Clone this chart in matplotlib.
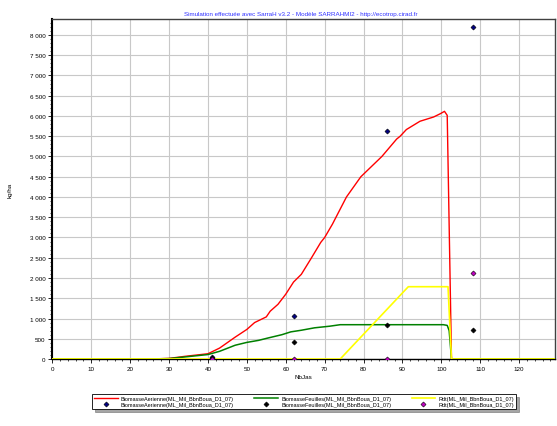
import matplotlib
matplotlib.use("Agg")
import matplotlib.pyplot as plt
from matplotlib.ticker import MultipleLocator, FuncFormatter

plt.rcParams['font.family'] = ['Liberation Sans', 'DejaVu Sans']

title = "Simulation effectuée avec SarraH v3.2 - Modèle SARRAHMI2 - http://ecotrop.cirad.fr"
xlabel = "NbJas"
ylabel = "kg/ha"

aer_days = [0, 25, 30, 34, 40, 43, 47, 50, 52, 55, 56, 58, 60, 62, 64, 66.5, 69, 70, 72,
            75.6, 79.3, 84.7, 88.5, 89.4, 91, 94.5, 98, 99.8, 100.8, 101.5, 102.6, 129]
biom_aer = [0, 0, 15, 65, 130, 270, 540, 730, 900, 1040, 1180, 1350, 1600, 1900, 2090, 2480,
            2880, 3000, 3330, 4000, 4500, 5000, 5430, 5500, 5665, 5870, 5975, 6060, 6115, 6015, 0, 0]
feu_days = [0, 25, 30, 34, 40, 43, 47, 50, 53, 55.5, 59, 61.3, 64, 67.4, 71.3, 74,
            100.5, 101.5, 102, 102.6, 129]
biom_feu = [0, 0, 10, 50, 110, 190, 340, 410, 460, 520, 600, 670, 710, 770, 810, 847,
            847, 830, 700, 0, 0]
rdt_days = [0, 74, 91.5, 101.7, 102.6, 129]
rdt = [0, 0, 1785, 1785, 0, 0]

obs_days = [41, 62, 86, 108]
obs_aer = [50, 1070, 5620, 8200]
obs_feu = [20, 430, 850, 710]
obs_rdt = [0, 0, 0, 2120]

labels = ["BiomasseAerienne(ML_Mil_BbnBoua_D1_07)",
          "BiomasseFeuilles(ML_Mil_BbnBoua_D1_07)",
          "Rdt(ML_Mil_BbnBoua_D1_07)"]

fig = plt.figure(figsize=(5.57, 4.27), dpi=100)
ax = fig.add_axes([0.0939, 0.1569, 0.9025, 0.7963])

ax.grid(True, color='#c8c8c8', linewidth=0.8, zorder=0)
ax.set_axisbelow(True)

l1, = ax.plot(aer_days, biom_aer, color='#ff0000', lw=1.0, zorder=3)
l2, = ax.plot(feu_days, biom_feu, color='#008000', lw=1.1, zorder=3)
l3, = ax.plot(rdt_days, rdt, color='#ffff00', lw=1.2, zorder=4)
m1, = ax.plot(obs_days, obs_aer, linestyle='none', marker='D', ms=2.6, mfc='#000080', mec='black', mew=0.4, zorder=5)
m2, = ax.plot(obs_days, obs_feu, linestyle='none', marker='D', ms=2.6, mfc='black', mec='black', mew=0.4, zorder=5)
m3, = ax.plot(obs_days, obs_rdt, linestyle='none', marker='D', ms=2.6, mfc='#c000c0', mec='black', mew=0.4, zorder=5)

ax.set_xlim(0, 129.2)
ax.set_ylim(0, 8395)
ax.xaxis.set_major_locator(MultipleLocator(10))
ax.xaxis.set_minor_locator(MultipleLocator(2))
ax.yaxis.set_major_locator(MultipleLocator(500))
ax.yaxis.set_minor_locator(MultipleLocator(100))
ax.yaxis.set_major_formatter(FuncFormatter(lambda v, p: f"{int(v):,}".replace(",", " ")))
ax.tick_params(axis='both', which='major', labelsize=4.5, length=3, width=0.6, pad=2)
ax.tick_params(axis='both', which='minor', length=1.5, width=0.5)

for s in ['top', 'right']:
    ax.spines[s].set_color('#404040')
    ax.spines[s].set_linewidth(1.0)
ax.spines['left'].set_color('black')
ax.spines['left'].set_linewidth(1.5)
ax.spines['bottom'].set_color('black')
ax.spines['bottom'].set_linewidth(1.0)

fig.text(0.54, 0.965, title, color='#3030ff', fontsize=4.5, ha='center', va='center')
fig.text(0.545, 0.117, xlabel, fontsize=4.5, ha='center', va='center')
fig.text(0.018, 0.555, ylabel, fontsize=4.5, ha='center', va='center', rotation=90)

leg = fig.legend([l1, m1, l2, m2, l3, m3],
                 [labels[0], labels[0], labels[1], labels[1], labels[2], labels[2]],
                 ncol=3, loc='center', bbox_to_anchor=(0.546, 0.057), fontsize=4,
                 frameon=True, fancybox=False, shadow=True, edgecolor='black',
                 handlelength=4.2, columnspacing=3.7, borderpad=0.35, labelspacing=0.25,
                 handletextpad=0.6)
leg.get_frame().set_linewidth(0.6)

fig.savefig("out.png", dpi=100)
